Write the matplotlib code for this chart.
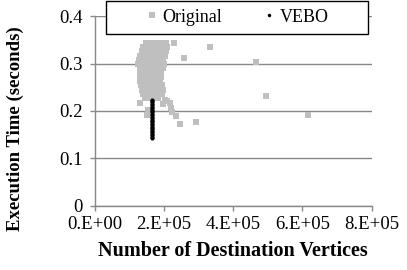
import matplotlib.pyplot as plt
from matplotlib.lines import Line2D
from matplotlib.patches import Rectangle

plt.rcParams['font.family'] = ['Liberation Serif', 'DejaVu Serif']

# Original: execution time vs number of destination vertices (x in units of 1e5)
orig_x = [
    1.48, 1.60, 1.72, 1.84, 1.96, 2.06,
    1.40, 1.52, 1.64, 1.76, 1.88, 2.00, 2.08,
    1.36, 1.48, 1.60, 1.72, 1.84, 1.96, 2.05,
    1.30, 1.42, 1.54, 1.66, 1.78, 1.90, 2.02,
    1.28, 1.40, 1.52, 1.64, 1.76, 1.88, 1.98,
    1.26, 1.38, 1.50, 1.62, 1.74, 1.86, 1.99,
    1.30, 1.42, 1.54, 1.66, 1.78, 1.90, 1.98,
    1.32, 1.44, 1.56, 1.68, 1.80, 1.92,
    1.31, 1.43, 1.55, 1.67, 1.79, 1.91,
    1.32, 1.44, 1.56, 1.68, 1.80, 1.90,
    1.34, 1.46, 1.58, 1.70, 1.82, 1.94,
    1.36, 1.48, 1.60, 1.72, 1.84, 1.97,
    1.40, 1.52, 1.64, 1.76, 1.88, 1.96,
    1.46, 1.58, 1.70, 1.82,
    1.31, 1.50, 1.55,
    1.98, 2.03, 2.10, 2.17, 2.22, 2.24, 2.34, 2.46, 2.92,
    2.28, 2.59, 3.32, 4.67, 4.94, 6.16,
]
orig_y = [
    0.343, 0.343, 0.343, 0.343, 0.343, 0.343,
    0.335, 0.335, 0.335, 0.335, 0.335, 0.335, 0.335,
    0.326, 0.326, 0.326, 0.326, 0.326, 0.326, 0.326,
    0.317, 0.317, 0.317, 0.317, 0.317, 0.317, 0.317,
    0.308, 0.308, 0.308, 0.308, 0.308, 0.308, 0.308,
    0.299, 0.299, 0.299, 0.299, 0.299, 0.299, 0.299,
    0.290, 0.290, 0.290, 0.290, 0.290, 0.290, 0.290,
    0.281, 0.281, 0.281, 0.281, 0.281, 0.281,
    0.272, 0.272, 0.272, 0.272, 0.272, 0.272,
    0.263, 0.263, 0.263, 0.263, 0.263, 0.263,
    0.254, 0.254, 0.254, 0.254, 0.254, 0.254,
    0.245, 0.245, 0.245, 0.245, 0.245, 0.245,
    0.236, 0.236, 0.236, 0.236, 0.236, 0.236,
    0.228, 0.228, 0.228, 0.228,
    0.216, 0.1915, 0.202,
    0.215, 0.223, 0.222, 0.216, 0.207, 0.1985, 0.189, 0.1725, 0.177,
    0.344, 0.311, 0.335, 0.304, 0.232, 0.192,
]

# VEBO: nearly constant vertex count, lower times
vebo_x = [1.67, 1.67, 1.67, 1.67, 1.67, 1.67, 1.67, 1.67, 1.67, 1.67,
          1.67, 1.67, 1.67, 1.67, 1.67, 1.67, 1.67, 1.67, 1.67, 1.67,
          1.67, 1.67, 1.67, 1.67, 1.67, 1.67, 1.67, 1.67]
vebo_y = [0.143, 0.146, 0.149, 0.152, 0.155, 0.158, 0.161, 0.164, 0.167, 0.170,
          0.173, 0.176, 0.179, 0.182, 0.185, 0.188, 0.191, 0.194, 0.197, 0.200,
          0.203, 0.206, 0.209, 0.212, 0.215, 0.218, 0.221, 0.224]

x_ticks = [0, 2e5, 4e5, 6e5, 8e5]
x_ticklabels = ['0.E+00', '2.E+05', '4.E+05', '6.E+05', '8.E+05']
y_ticks = [0, 0.1, 0.2, 0.3, 0.4]
y_ticklabels = ['0', '0.1', '0.2', '0.3', '0.4']

grey = '#bfbfbf'
axis_grey = '#888888'

fig = plt.figure(figsize=(4.07, 2.7), dpi=100)
ax = fig.add_axes([94.6 / 407, 1 - 205.6 / 270, 277 / 407, 189.2 / 270])

ax.scatter([v * 1e5 for v in orig_x], orig_y, s=16, marker='s', color=grey,
           linewidths=0, zorder=3)
ax.scatter([v * 1e5 for v in vebo_x], vebo_y, s=9, marker='o', color='black',
           linewidths=0, zorder=4)

ax.set_xlim(0, 8e5)
ax.set_ylim(0, 0.4)
ax.set_xticks(x_ticks)
ax.set_xticklabels(x_ticklabels)
ax.set_yticks(y_ticks)
ax.set_yticklabels(y_ticklabels)
ax.tick_params(labelsize=13.5, colors='black', length=3.5, width=1,
               direction='out', color=axis_grey)
ax.tick_params(axis='y', pad=5)
ax.tick_params(axis='x', pad=4)

ax.grid(axis='y', color=axis_grey, linewidth=1, zorder=0)
ax.set_axisbelow(True)
for side in ['top', 'right']:
    ax.spines[side].set_visible(False)
for side in ['left', 'bottom']:
    ax.spines[side].set_color(axis_grey)
    ax.spines[side].set_linewidth(1)

ax.set_xlabel('Number of Destination Vertices', fontsize=14.5,
              fontweight='bold')
ax.xaxis.set_label_coords(0.5, -0.185)
ax.set_ylabel('Execution Time (seconds)', fontsize=13.5,
              fontweight='bold')
ax.yaxis.set_label_coords(-0.287, 0.405)
ax.yaxis.label.set_verticalalignment('center')

# legend box sits over the top edge of the plot
box = Rectangle((0.04, 0.909), 0.946, 0.174, transform=ax.transAxes,
                clip_on=False, facecolor='white', edgecolor='black',
                linewidth=1, zorder=5)
ax.add_patch(box)
handles = [
    Line2D([], [], linestyle='none', marker='s', markersize=4,
           markerfacecolor=grey, markeredgewidth=0, label='Original'),
    Line2D([], [], linestyle='none', marker='o', markersize=2.5,
           markerfacecolor='black', markeredgewidth=0, label='VEBO'),
]
leg = ax.legend(handles=handles, ncol=2, loc='center left',
                bbox_to_anchor=(0.187, 0.909 + 0.174 / 2),
                borderaxespad=0, borderpad=0, fontsize=13, frameon=False,
                handlelength=0.6, handletextpad=0.3, columnspacing=2.3)
leg.set_zorder(6)

fig.savefig('out.png', dpi=100)
